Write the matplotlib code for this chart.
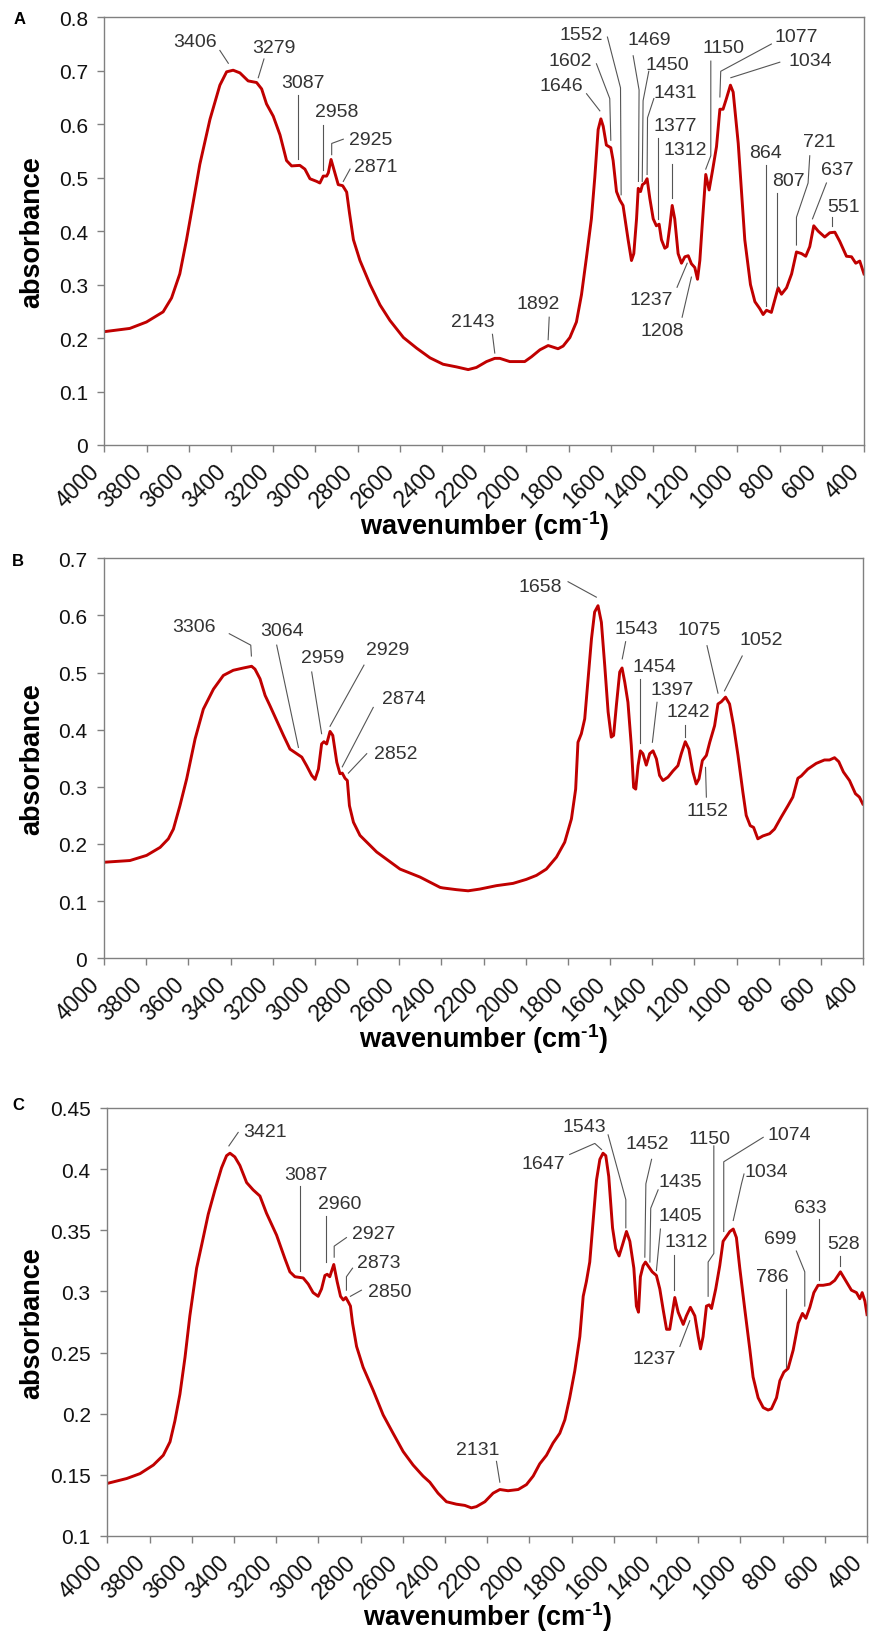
import matplotlib.pyplot as plt

plt.rcParams['font.family'] = ['Liberation Sans', 'DejaVu Sans']
plt.rcParams['mathtext.fontset'] = 'custom'
plt.rcParams['mathtext.rm'] = 'Liberation Sans'
plt.rcParams['mathtext.bf'] = 'Liberation Sans:bold'

# ---- spectrum A ----
a_wn = [4000, 3880, 3801, 3722, 3682, 3643, 3611, 3579, 3548, 3500, 3453, 3421, 3390, 3358,
        3319, 3279, 3255, 3232, 3200, 3168, 3137, 3113, 3074, 3050, 3026, 2994, 2979, 2963,
        2947, 2939, 2926, 2911, 2892, 2871, 2852, 2839, 2820, 2789, 2741, 2694, 2647, 2583,
        2520, 2457, 2395, 2331, 2276, 2237, 2189, 2150, 2126, 2079, 2008, 1976, 1936, 1897,
        1873, 1850, 1826, 1794, 1763, 1739, 1715, 1692, 1676, 1660, 1647, 1636, 1621, 1600,
        1589, 1573, 1557, 1542, 1518, 1502, 1491, 1478, 1470, 1459, 1450, 1439, 1428, 1415,
        1399, 1384, 1371, 1360, 1344, 1333, 1320, 1309, 1297, 1281, 1265, 1249, 1233, 1218,
        1202, 1189, 1178, 1166, 1150, 1134, 1118, 1099, 1083, 1068, 1052, 1033, 1020, 996,
        965, 938, 917, 894, 878, 862, 839, 823, 807, 791, 767, 743, 720, 696, 676, 657, 638,
        617, 586, 562, 538, 515, 483, 459, 439, 420, 400]
a_abs = [0.212, 0.218, 0.230, 0.249, 0.275, 0.320, 0.384, 0.455, 0.525, 0.609, 0.673, 0.698,
         0.701, 0.696, 0.681, 0.678, 0.666, 0.638, 0.615, 0.580, 0.532, 0.522, 0.523, 0.516,
         0.498, 0.493, 0.490, 0.503, 0.503, 0.509, 0.534, 0.513, 0.487, 0.485, 0.473, 0.435,
         0.384, 0.345, 0.300, 0.262, 0.233, 0.201, 0.181, 0.163, 0.151, 0.146, 0.141, 0.145,
         0.156, 0.162, 0.162, 0.156, 0.156, 0.165, 0.178, 0.186, 0.183, 0.180, 0.185, 0.201,
         0.230, 0.281, 0.352, 0.423, 0.500, 0.590, 0.610, 0.596, 0.561, 0.556, 0.532, 0.474,
         0.458, 0.448, 0.384, 0.345, 0.358, 0.423, 0.480, 0.474, 0.487, 0.490, 0.498, 0.461,
         0.423, 0.410, 0.413, 0.384, 0.368, 0.371, 0.410, 0.448, 0.423, 0.358, 0.340, 0.352,
         0.354, 0.339, 0.332, 0.310, 0.345, 0.416, 0.506, 0.477, 0.513, 0.558, 0.628, 0.628,
         0.648, 0.673, 0.660, 0.564, 0.384, 0.300, 0.268, 0.255, 0.244, 0.252, 0.248, 0.271,
         0.294, 0.282, 0.294, 0.320, 0.361, 0.358, 0.353, 0.371, 0.410, 0.400, 0.389, 0.397,
         0.398, 0.381, 0.353, 0.352, 0.340, 0.344, 0.320]

# ---- spectrum B ----
b_wn = [4000, 3877, 3798, 3734, 3695, 3671, 3640, 3608, 3568, 3529, 3481, 3434, 3387, 3339,
        3300, 3284, 3260, 3236, 3213, 3181, 3149, 3118, 3086, 3062, 3039, 3015, 2999, 2983,
        2968, 2957, 2944, 2928, 2915, 2896, 2881, 2870, 2857, 2846, 2836, 2817, 2786, 2707,
        2596, 2501, 2406, 2392, 2328, 2273, 2218, 2139, 2060, 1997, 1949, 1902, 1854, 1815,
        1783, 1763, 1752, 1736, 1720, 1704, 1688, 1673, 1657, 1641, 1625, 1609, 1594, 1583,
        1570, 1554, 1543, 1530, 1515, 1499, 1488, 1478, 1467, 1456, 1444, 1428, 1412, 1396,
        1380, 1365, 1349, 1325, 1301, 1278, 1262, 1243, 1226, 1207, 1191, 1178, 1162, 1143,
        1127, 1104, 1088, 1072, 1052, 1033, 1014, 993, 970, 954, 935, 919, 899, 875, 843, 820,
        788, 756, 733, 709, 693, 662, 622, 583, 559, 535, 515, 493, 464, 436, 417, 401]
b_abs = [0.168, 0.171, 0.180, 0.194, 0.209, 0.226, 0.267, 0.314, 0.384, 0.436, 0.471, 0.495,
         0.504, 0.508, 0.511, 0.506, 0.489, 0.460, 0.442, 0.416, 0.390, 0.366, 0.358, 0.352,
         0.337, 0.320, 0.313, 0.331, 0.375, 0.379, 0.375, 0.397, 0.390, 0.343, 0.323, 0.324,
         0.315, 0.311, 0.267, 0.238, 0.215, 0.186, 0.156, 0.142, 0.124, 0.123, 0.120, 0.118,
         0.121, 0.127, 0.131, 0.138, 0.145, 0.156, 0.177, 0.203, 0.244, 0.296, 0.378, 0.393,
         0.419, 0.489, 0.559, 0.606, 0.617, 0.588, 0.512, 0.431, 0.387, 0.390, 0.442, 0.501,
         0.508, 0.483, 0.448, 0.372, 0.299, 0.296, 0.337, 0.363, 0.358, 0.338, 0.358, 0.363,
         0.349, 0.320, 0.311, 0.317, 0.328, 0.337, 0.358, 0.379, 0.366, 0.326, 0.305, 0.314,
         0.346, 0.355, 0.378, 0.407, 0.445, 0.449, 0.457, 0.445, 0.407, 0.355, 0.291, 0.250,
         0.232, 0.229, 0.209, 0.214, 0.218, 0.226, 0.247, 0.267, 0.282, 0.315, 0.319, 0.331,
         0.341, 0.347, 0.347, 0.351, 0.344, 0.326, 0.311, 0.288, 0.282, 0.270]

# ---- spectrum C ----
c_wn = [4000, 3908, 3845, 3782, 3735, 3703, 3680, 3656, 3632, 3609, 3577, 3553, 3522, 3490,
        3459, 3435, 3419, 3396, 3372, 3340, 3309, 3277, 3246, 3198, 3159, 3135, 3111, 3072,
        3048, 3025, 3001, 2985, 2969, 2958, 2946, 2927, 2911, 2895, 2882, 2870, 2857, 2848,
        2838, 2819, 2788, 2740, 2693, 2646, 2598, 2551, 2504, 2472, 2433, 2393, 2346, 2306,
        2275, 2251, 2211, 2172, 2140, 2101, 2053, 2014, 1982, 1951, 1919, 1888, 1856, 1832,
        1809, 1785, 1761, 1745, 1730, 1714, 1698, 1682, 1666, 1651, 1638, 1624, 1606, 1591,
        1575, 1559, 1540, 1524, 1505, 1493, 1483, 1474, 1461, 1450, 1434, 1418, 1398, 1382,
        1366, 1350, 1335, 1322, 1311, 1295, 1271, 1256, 1237, 1216, 1200, 1189, 1177, 1161,
        1148, 1137, 1117, 1098, 1082, 1066, 1050, 1034, 1019, 1003, 979, 955, 940, 916, 892,
        869, 853, 829, 813, 794, 774, 750, 726, 706, 690, 671, 652, 632, 608, 576, 553, 526,
        505, 474, 450, 434, 423, 410, 400]
c_abs = [0.143, 0.147, 0.151, 0.158, 0.166, 0.177, 0.194, 0.216, 0.246, 0.280, 0.319, 0.338,
         0.363, 0.383, 0.401, 0.411, 0.413, 0.410, 0.403, 0.389, 0.383, 0.378, 0.364, 0.346,
         0.327, 0.316, 0.312, 0.311, 0.306, 0.299, 0.296, 0.302, 0.313, 0.314, 0.312, 0.322,
         0.308, 0.296, 0.293, 0.295, 0.291, 0.288, 0.274, 0.255, 0.238, 0.219, 0.199, 0.184,
         0.169, 0.158, 0.149, 0.144, 0.135, 0.128, 0.126, 0.125, 0.123, 0.124, 0.128, 0.135,
         0.138, 0.137, 0.138, 0.142, 0.149, 0.159, 0.166, 0.176, 0.184, 0.195, 0.213, 0.235,
         0.263, 0.296, 0.308, 0.324, 0.358, 0.391, 0.408, 0.413, 0.411, 0.394, 0.352, 0.335,
         0.329, 0.338, 0.349, 0.341, 0.319, 0.288, 0.283, 0.312, 0.321, 0.324, 0.320, 0.316,
         0.313, 0.302, 0.285, 0.269, 0.269, 0.283, 0.295, 0.283, 0.273, 0.280, 0.287, 0.280,
         0.263, 0.253, 0.263, 0.288, 0.289, 0.286, 0.302, 0.321, 0.341, 0.345, 0.349, 0.351,
         0.344, 0.319, 0.285, 0.252, 0.230, 0.213, 0.205, 0.203, 0.204, 0.213, 0.227, 0.234,
         0.237, 0.252, 0.274, 0.282, 0.278, 0.287, 0.299, 0.305, 0.305, 0.306, 0.309, 0.316,
         0.310, 0.301, 0.299, 0.294, 0.299, 0.292, 0.281]

x_ticks = list(range(4000, 399, -200))
a_yticks = [0, 0.1, 0.2, 0.3, 0.4, 0.5, 0.6, 0.7, 0.8]
b_yticks = [0, 0.1, 0.2, 0.3, 0.4, 0.5, 0.6, 0.7]
c_yticks = [0.1, 0.15, 0.2, 0.25, 0.3, 0.35, 0.4, 0.45]

# peak labels: text, text centre (wn, abs), leader line path
a_notes = [
    ("3406", 3572, 0.754, [(3453, 0.738), (3413, 0.714)]),
    ("3279", 3197, 0.744, [(3244, 0.722), (3271, 0.687)]),
    ("3087", 3061, 0.678, [(3081, 0.654), (3081, 0.535)]),
    ("2958", 2900, 0.623, [(2966, 0.599), (2966, 0.514)]),
    ("2925", 2738, 0.572, [(2868, 0.572), (2923, 0.564), (2923, 0.543)]),
    ("2871", 2715, 0.520, [(2836, 0.516), (2868, 0.493)]),
    ("2143", 2252, 0.231, [(2161, 0.207), (2150, 0.172)]),
    ("1892", 1944, 0.265, [(1892, 0.239), (1897, 0.197)]),
    ("1646", 1834, 0.672, [(1715, 0.657), (1652, 0.625)]),
    ("1602", 1794, 0.720, [(1668, 0.713), (1605, 0.648), (1600, 0.570)]),
    ("1552", 1739, 0.767, [(1616, 0.763), (1554, 0.668), (1551, 0.468)]),
    ("1469", 1420, 0.758, [(1494, 0.728), (1466, 0.664), (1469, 0.493)]),
    ("1450", 1331, 0.712, [(1420, 0.699), (1447, 0.644), (1451, 0.493)]),
    ("1431", 1294, 0.660, [(1396, 0.648), (1426, 0.612), (1428, 0.506)]),
    ("1377", 1294, 0.598, [(1376, 0.574), (1376, 0.423)]),
    ("1312", 1249, 0.552, [(1312, 0.525), (1312, 0.462)]),
    ("1237", 1407, 0.273, [(1286, 0.295), (1238, 0.340)]),
    ("1208", 1357, 0.214, [(1262, 0.239), (1218, 0.314)]),
    ("1150", 1068, 0.744, [(1126, 0.718), (1126, 0.541), (1150, 0.516)]),
    ("1077", 723, 0.765, [(839, 0.750), (1079, 0.699), (1083, 0.651)]),
    ("1034", 654, 0.720, [(799, 0.716), (1031, 0.687)]),
    ("864", 867, 0.547, [(865, 0.524), (865, 0.260)]),
    ("807", 760, 0.495, [(810, 0.471), (810, 0.295)]),
    ("721", 614, 0.567, [(657, 0.541), (665, 0.490), (720, 0.426), (720, 0.374)]),
    ("637", 527, 0.516, [(578, 0.490), (644, 0.423)]),
    ("551", 499, 0.447, [(550, 0.426), (550, 0.410)]),
]
b_notes = [
    ("3306", 3575, 0.581, [(3406, 0.568), (3304, 0.548), (3301, 0.529)]),
    ("3064", 3157, 0.574, [(3181, 0.548), (3078, 0.369)]),
    ("2959", 2963, 0.526, [(3015, 0.501), (2968, 0.393)]),
    ("2929", 2654, 0.540, [(2767, 0.513), (2928, 0.406)]),
    ("2874", 2580, 0.455, [(2723, 0.439), (2870, 0.335)]),
    ("2852", 2615, 0.358, [(2754, 0.358), (2841, 0.324)]),
    ("1658", 1933, 0.651, [(1799, 0.659), (1665, 0.632)]),
    ("1543", 1475, 0.578, [(1526, 0.554), (1542, 0.524)]),
    ("1454", 1388, 0.511, [(1459, 0.489), (1459, 0.377)]),
    ("1397", 1306, 0.470, [(1377, 0.448), (1399, 0.378)]),
    ("1242", 1227, 0.431, [(1243, 0.409), (1243, 0.387)]),
    ("1152", 1140, 0.258, [(1143, 0.282), (1147, 0.334)]),
    ("1075", 1175, 0.575, [(1140, 0.547), (1088, 0.464)]),
    ("1052", 883, 0.558, [(973, 0.529), (1057, 0.468)]),
]
c_notes = [
    ("3421", 3253, 0.431, [(3380, 0.430), (3424, 0.419)]),
    ("3087", 3059, 0.396, [(3085, 0.386), (3085, 0.317)]),
    ("2960", 2901, 0.372, [(2966, 0.362), (2966, 0.324)]),
    ("2927", 2740, 0.347, [(2867, 0.344), (2925, 0.337), (2925, 0.328)]),
    ("2873", 2712, 0.324, [(2838, 0.319), (2867, 0.312), (2867, 0.301)]),
    ("2850", 2661, 0.300, [(2796, 0.301), (2848, 0.296)]),
    ("2131", 2246, 0.171, [(2156, 0.161), (2140, 0.144)]),
    ("1647", 1935, 0.405, [(1809, 0.412), (1690, 0.421), (1658, 0.416)]),
    ("1543", 1742, 0.435, [(1627, 0.428), (1543, 0.375), (1543, 0.352)]),
    ("1452", 1442, 0.421, [(1421, 0.408), (1448, 0.388), (1453, 0.328)]),
    ("1435", 1287, 0.390, [(1390, 0.383), (1425, 0.368), (1429, 0.324)]),
    ("1405", 1284, 0.362, [(1379, 0.351), (1398, 0.317)]),
    ("1312", 1256, 0.341, [(1314, 0.330), (1314, 0.301)]),
    ("1237", 1410, 0.245, [(1287, 0.255), (1240, 0.276)]),
    ("1150", 1148, 0.425, [(1126, 0.419), (1126, 0.331), (1153, 0.324), (1153, 0.296)]),
    ("1074", 769, 0.428, [(892, 0.426), (1079, 0.406), (1079, 0.349)]),
    ("1034", 876, 0.398, [(983, 0.396), (995, 0.388), (1034, 0.358)]),
    ("786", 848, 0.312, [(786, 0.302), (786, 0.238)]),
    ("699", 810, 0.343, [(735, 0.333), (695, 0.316), (695, 0.288)]),
    ("633", 671, 0.369, [(629, 0.359), (629, 0.309)]),
    ("528", 510, 0.339, [(526, 0.329), (526, 0.321)]),
]

fig = plt.figure(figsize=(8.72, 16.33), dpi=100)


def draw_panel(rect, wn, ab, yticks, notes, letter, letter_xy, ylab_x):
    ax = fig.add_axes(rect)
    ax.plot(wn, ab, color='#C00000', lw=2.1, solid_joinstyle='round')
    ax.set_xlim(4000, 400)
    ax.set_ylim(yticks[0], yticks[-1])
    ax.set_xticks(x_ticks)
    ax.set_xticklabels([str(t) for t in x_ticks], rotation=45, ha='right')
    ax.set_yticks(yticks)
    ax.set_yticklabels(['%g' % t for t in yticks])
    ax.tick_params(axis='both', color='#808080', length=5, width=1, labelcolor='#111111')
    ax.tick_params(axis='x', labelsize=16.5, pad=5)
    ax.tick_params(axis='y', labelsize=15, pad=7)
    for s in ax.spines.values():
        s.set_color('#808080')
        s.set_linewidth(1)
    for label, tx, ty, path in notes:
        ax.text(tx, ty, label, ha='center', va='center', fontsize=14, color='#333333')
        ax.plot([p[0] for p in path], [p[1] for p in path], color='#555555', lw=0.8)
    ax.set_ylabel('absorbance', fontsize=19.5, fontweight='bold', va='center')
    ax.yaxis.set_label_coords(ylab_x, 0.5)
    ax.set_xlabel('wavenumber (cm$^{\\mathbf{\u20101}}$)', fontsize=19.5, fontweight='bold',
                  va='center')
    ax.xaxis.set_label_coords(0.5, -80 / (rect[3] * 1633))
    fig.text(letter_xy[0] / 872, 1 - letter_xy[1] / 1633, letter, fontsize=12,
             fontweight='bold', ha='center', va='center')
    return ax


draw_panel([0.1198, 0.7269, 0.8710, 0.2619], a_wn, a_abs, a_yticks, a_notes, 'A', (20, 19), -0.0955)
draw_panel([0.1193, 0.4126, 0.8704, 0.2449], b_wn, b_abs, b_yticks, b_notes, 'B', (18, 561), -0.0949)
draw_panel([0.1231, 0.0588, 0.8712, 0.2621], c_wn, c_abs, c_yticks, c_notes, 'C', (18, 1105), -0.0991)

plt.savefig('out.png', dpi=100)
